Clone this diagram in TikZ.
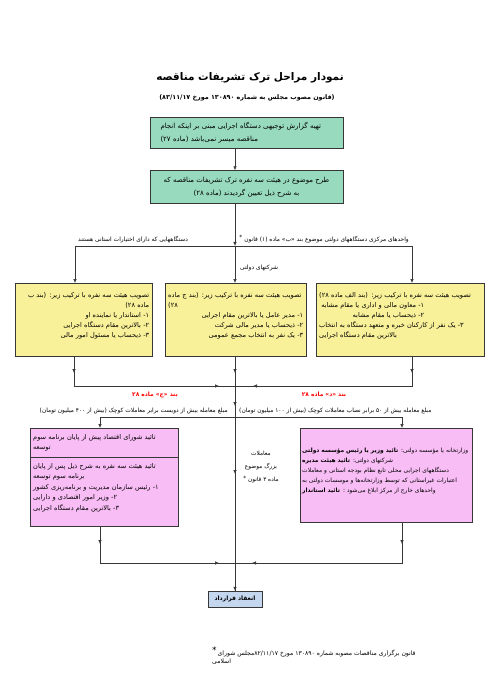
\documentclass[tikz,border=0pt]{standalone}
\usepackage{fontspec}
\TeXXeTstate=1
\newfontfamily\fafont[Script=Arabic]{DejaVu Sans}
\usetikzlibrary{arrows.meta}
\definecolor{mint}{RGB}{152,218,190}
\definecolor{lemon}{RGB}{249,241,154}
\definecolor{orchid}{RGB}{249,189,246}
\definecolor{paleblue}{RGB}{197,214,239}
\definecolor{wiregray}{RGB}{55,55,55}
\newcommand\rtlline[1]{\leavevmode\beginR #1\endR}
\newcommand\fstar{\raisebox{1.5pt}{*}}

\begin{document}
\begin{tikzpicture}[x=1pt,y=-1pt,>={Latex[length=4pt,width=3.5pt]},
    every node/.style={font=\fafont\fontsize{5.9}{7}\selectfont,inner sep=1pt},
    greenbox/.style={draw=wiregray,fill=mint,minimum width=193pt,inner sep=2pt,font=\fafont\fontsize{7}{13}\selectfont},
    yellowbox/.style={draw=wiregray,fill=lemon,anchor=north west,minimum height=73pt,inner sep=3pt,font=\fafont\fontsize{6.6}{10}\selectfont},
    pinkbox/.style={draw=wiregray,fill=orchid,anchor=north west,inner sep=3pt,align=left,font=\fafont\fontsize{6.6}{10.5}\selectfont},
    redlbl/.style={text=red,font=\fafont\bfseries\fontsize{5.9}{7}\selectfont},
    wire/.style={draw=wiregray,line width=0.6pt}]
\useasboundingbox (0,0) rectangle (500,700);

\node[font=\fafont\bfseries\fontsize{10.5}{13}\selectfont] (title) at (250,78) {\rtlline{نمودار مراحل ترک تشریفات مناقصه}};
\node[font=\fafont\bfseries\fontsize{6.4}{8}\selectfont] (subtitle) at (247,98) {\rtlline{(قانون مصوب مجلس به شماره ۱۳۰۸۹۰ مورخ ۸۳/۱۱/۱۷)}};

\node[greenbox,text width=172pt,align=left,minimum height=31pt] (report) at (246.5,132.5) {\rtlline{تهیه گزارش توجیهی دستگاه اجرایی مبنی بر اینکه انجام}\\\rtlline{مناقصه میسر نمی‌باشد (ماده ۲۷)}};
\node[greenbox,align=center,minimum height=33pt] (committee) at (246.5,187) {\rtlline{طرح موضوع در هیئت سه نفره ترک تشریفات مناقصه که}\\\rtlline{به شرح ذیل تعیین گردیدند (ماده ۲۸)}};

\coordinate (fork) at (235,246);
\coordinate (forkL) at (75,246);
\coordinate (forkR) at (412,246);
\draw[wire,->] (report.south -| fork) -- (committee.north -| fork);
\node[above right=2pt] (provlbl) at (forkL) {\rtlline{دستگاههایی که دارای اختیارات استانی هستند}};
\node[above left=2pt] (centrallbl) at (forkR) {\rtlline{واحدهای مرکزی دستگاههای دولتی موضوع بند «ب» ماده (۱) قانون \fstar}};
\node[anchor=west] (firmslbl) at (239,268) {\rtlline{شرکتهای دولتی}};

\node[yellowbox,text width=131pt,align=right] (provinc) at (15,283) {\rtlline{تصویب هیئت سه نفره با ترکیب زیر: (بند ب}\\\rtlline{ماده ۲۸)}\\\rtlline{۱- استاندار یا نماینده او}\\\rtlline{۲- بالاترین مقام دستگاه اجرایی}\\\rtlline{۳- ذیحساب یا مسئول امور مالی}\\\mbox{}};
\node[yellowbox,text width=135pt,align=left] (firms) at (165,283) {\rtlline{تصویب هیئت سه نفره با ترکیب زیر: (بند ج ماده}\\\rtlline{۲۸)}\\\hspace*{\fill}\rtlline{۱- مدیر عامل یا بالاترین مقام اجرایی}\hspace*{\fill}\\\hspace*{\fill}\rtlline{۲- ذیحساب یا مدیر مالی شرکت}\hspace*{\fill}\\\hspace*{\fill}\rtlline{۳- یک نفر به انتخاب مجمع عمومی}\hspace*{\fill}\\\mbox{}};
\node[yellowbox,text width=162pt,align=left] (central) at (316,283) {\rtlline{تصویب هیئت سه نفره با ترکیب زیر: (بند الف ماده ۲۸)}\\\makebox[105pt][r]{\rtlline{۱- معاون مالی و اداری یا مقام مشابه}}\\\makebox[105pt][r]{\rtlline{۲- ذیحساب یا مقام مشابه}}\\\rtlline{۳- یک نفر از کارکنان خبره و متعهد دستگاه به انتخاب}\\\rtlline{بالاترین مقام دستگاه اجرایی}\\\mbox{}};

\draw[wire,->] (committee.south -| fork) -- (fork);
\draw[wire] (forkL) -- (forkR);
\draw[wire,->] (forkL) -- (forkL |- provinc.north);
\draw[wire,->] (fork) -- (fork |- firms.north);
\draw[wire,->] (forkR) -- (forkR |- central.north);

\coordinate (merge) at (235,386);
\coordinate (mergeL) at (74,386);
\coordinate (mergeR) at (412,386);
\coordinate (provtip) at (74,373);
\coordinate (firmstip) at (235,373);
\coordinate (centraltip) at (412,373);
\coordinate (mergetipL) at (219,386);
\coordinate (mergetipR) at (253,386);
\draw[wire] (provinc.south -| mergeL) -- (mergeL) -- (mergeR) -- (central.south -| mergeR);
\draw[wire,->] (provinc.south -| provtip) -- (provtip);
\draw[wire,->] (central.south -| centraltip) -- (centraltip);
\draw[wire,->] (mergeL) -- (mergetipL);
\draw[wire,->] (mergeR) -- (mergetipR);

\node[redlbl] (clausec) at (155,395) {\rtlline{بند «ج» ماده ۲۸}};
\node[redlbl] (claused) at (324,395) {\rtlline{بند «د» ماده ۲۸}};
\node[anchor=east] (amountc) at (229,411) {\rtlline{مبلغ معامله بیش از دویست برابر معاملات کوچک (بیش از ۴۰۰ میلیون تومان)}};
\node[anchor=west] (amountd) at (238,411) {\rtlline{مبلغ معامله بیش از ۵۰ برابر نصاب معاملات کوچک (بیش از ۱۰۰ میلیون تومان)}};

\node[pinkbox,text width=142pt,minimum height=29pt] (econ) at (30,428) {\rtlline{تائید شورای اقتصاد پیش از پایان برنامه سوم}\\\rtlline{توسعه}};
\node[pinkbox,text width=142pt,minimum height=69pt,anchor=north] (trio) at (econ.south) {\rtlline{تائید هیئت سه نفره به شرح ذیل پس از پایان}\\\rtlline{برنامه سوم توسعه}\\\rtlline{۱- رئیس سازمان مدیریت و برنامه‌ریزی کشور}\\\rtlline{۲- وزیر امور اقتصادی و دارایی}\\\rtlline{۳- بالاترین مقام دستگاه اجرایی}\\\mbox{}};
\node[pinkbox,text width=168pt,inner sep=2pt,minimum height=94pt,font=\fafont\fontsize{5.9}{10}\selectfont] (ministry) at (300,428) {\rtlline{وزارتخانه یا مؤسسه دولتی: \textbf{تائید وزیر یا رئیس مؤسسه دولتی}}\\\rtlline{شرکتهای دولتی: \textbf{تائید هیئت مدیره}}\\\rtlline{دستگاههای اجرایی محلی تابع نظام بودجه استانی و معاملات}\\\rtlline{اعتبارات غیراستانی که توسط وزارتخانه‌ها و موسسات دولتی به}\\\rtlline{واحدهای خارج از مرکز ابلاغ می‌شود : \textbf{تائید استاندار}}\\\mbox{}};
\node[align=center,font=\fafont\fontsize{5.8}{13}\selectfont] (biglbl) at (261,467) {\rtlline{معاملات}\\\rtlline{بزرگ موضوع}\\\rtlline{ماده ۳ قانون \fstar}};
\node[draw=wiregray,fill=paleblue,minimum width=54pt,minimum height=16pt,font=\fafont\bfseries\fontsize{6}{7}\selectfont] (contract) at (235,599) {\rtlline{انعقاد قرارداد}};

\coordinate (split) at (235,417);
\coordinate (splitL) at (100,417);
\coordinate (splitR) at (402,417);
\coordinate (splittip) at (235,406);
\coordinate (bigtip) at (235,474);
\draw[wire] (splitL) -- (splitR);
\draw[wire,->] (splitL) -- (splitL |- econ.north);
\draw[wire,->] (splitR) -- (splitR |- ministry.north);

\coordinate (join) at (235,563);
\coordinate (joinL) at (100,563);
\coordinate (joinR) at (402,563);
\coordinate (triotip) at (100,544);
\coordinate (ministrytip) at (402,544);
\coordinate (jointipL) at (219,563);
\coordinate (jointipR) at (252,563);
\draw[wire] (trio.south -| joinL) -- (joinL) -- (joinR) -- (ministry.south -| joinR);
\draw[wire,->] (trio.south -| triotip) -- (triotip);
\draw[wire,->] (ministry.south -| ministrytip) -- (ministrytip);
\draw[wire,->] (joinL) -- (jointipL);
\draw[wire,->] (joinR) -- (jointipR);

\draw[wire] (firms.south -| fork) -- (contract.north);
\draw[wire,->] (firms.south -| fork) -- (firmstip);
\draw[wire,->] (merge) -- (splittip);
\draw[wire,->] (split) -- (bigtip);
\draw[wire,->] (join) -- (contract.north);

\node[anchor=north west,align=left,font=\fafont\fontsize{6.1}{8}\selectfont] (footnote) at (211,646) {\raisebox{1.5pt}{\fontsize{9}{9}\selectfont*}\,\rtlline{قانون برگزاری مناقصات مصوبه شماره ۱۳۰۸۹۰ مورخ ۸۲/۱۱/۱۷مجلس شورای}\\\rtlline{اسلامی}};
\end{tikzpicture}
\end{document}
